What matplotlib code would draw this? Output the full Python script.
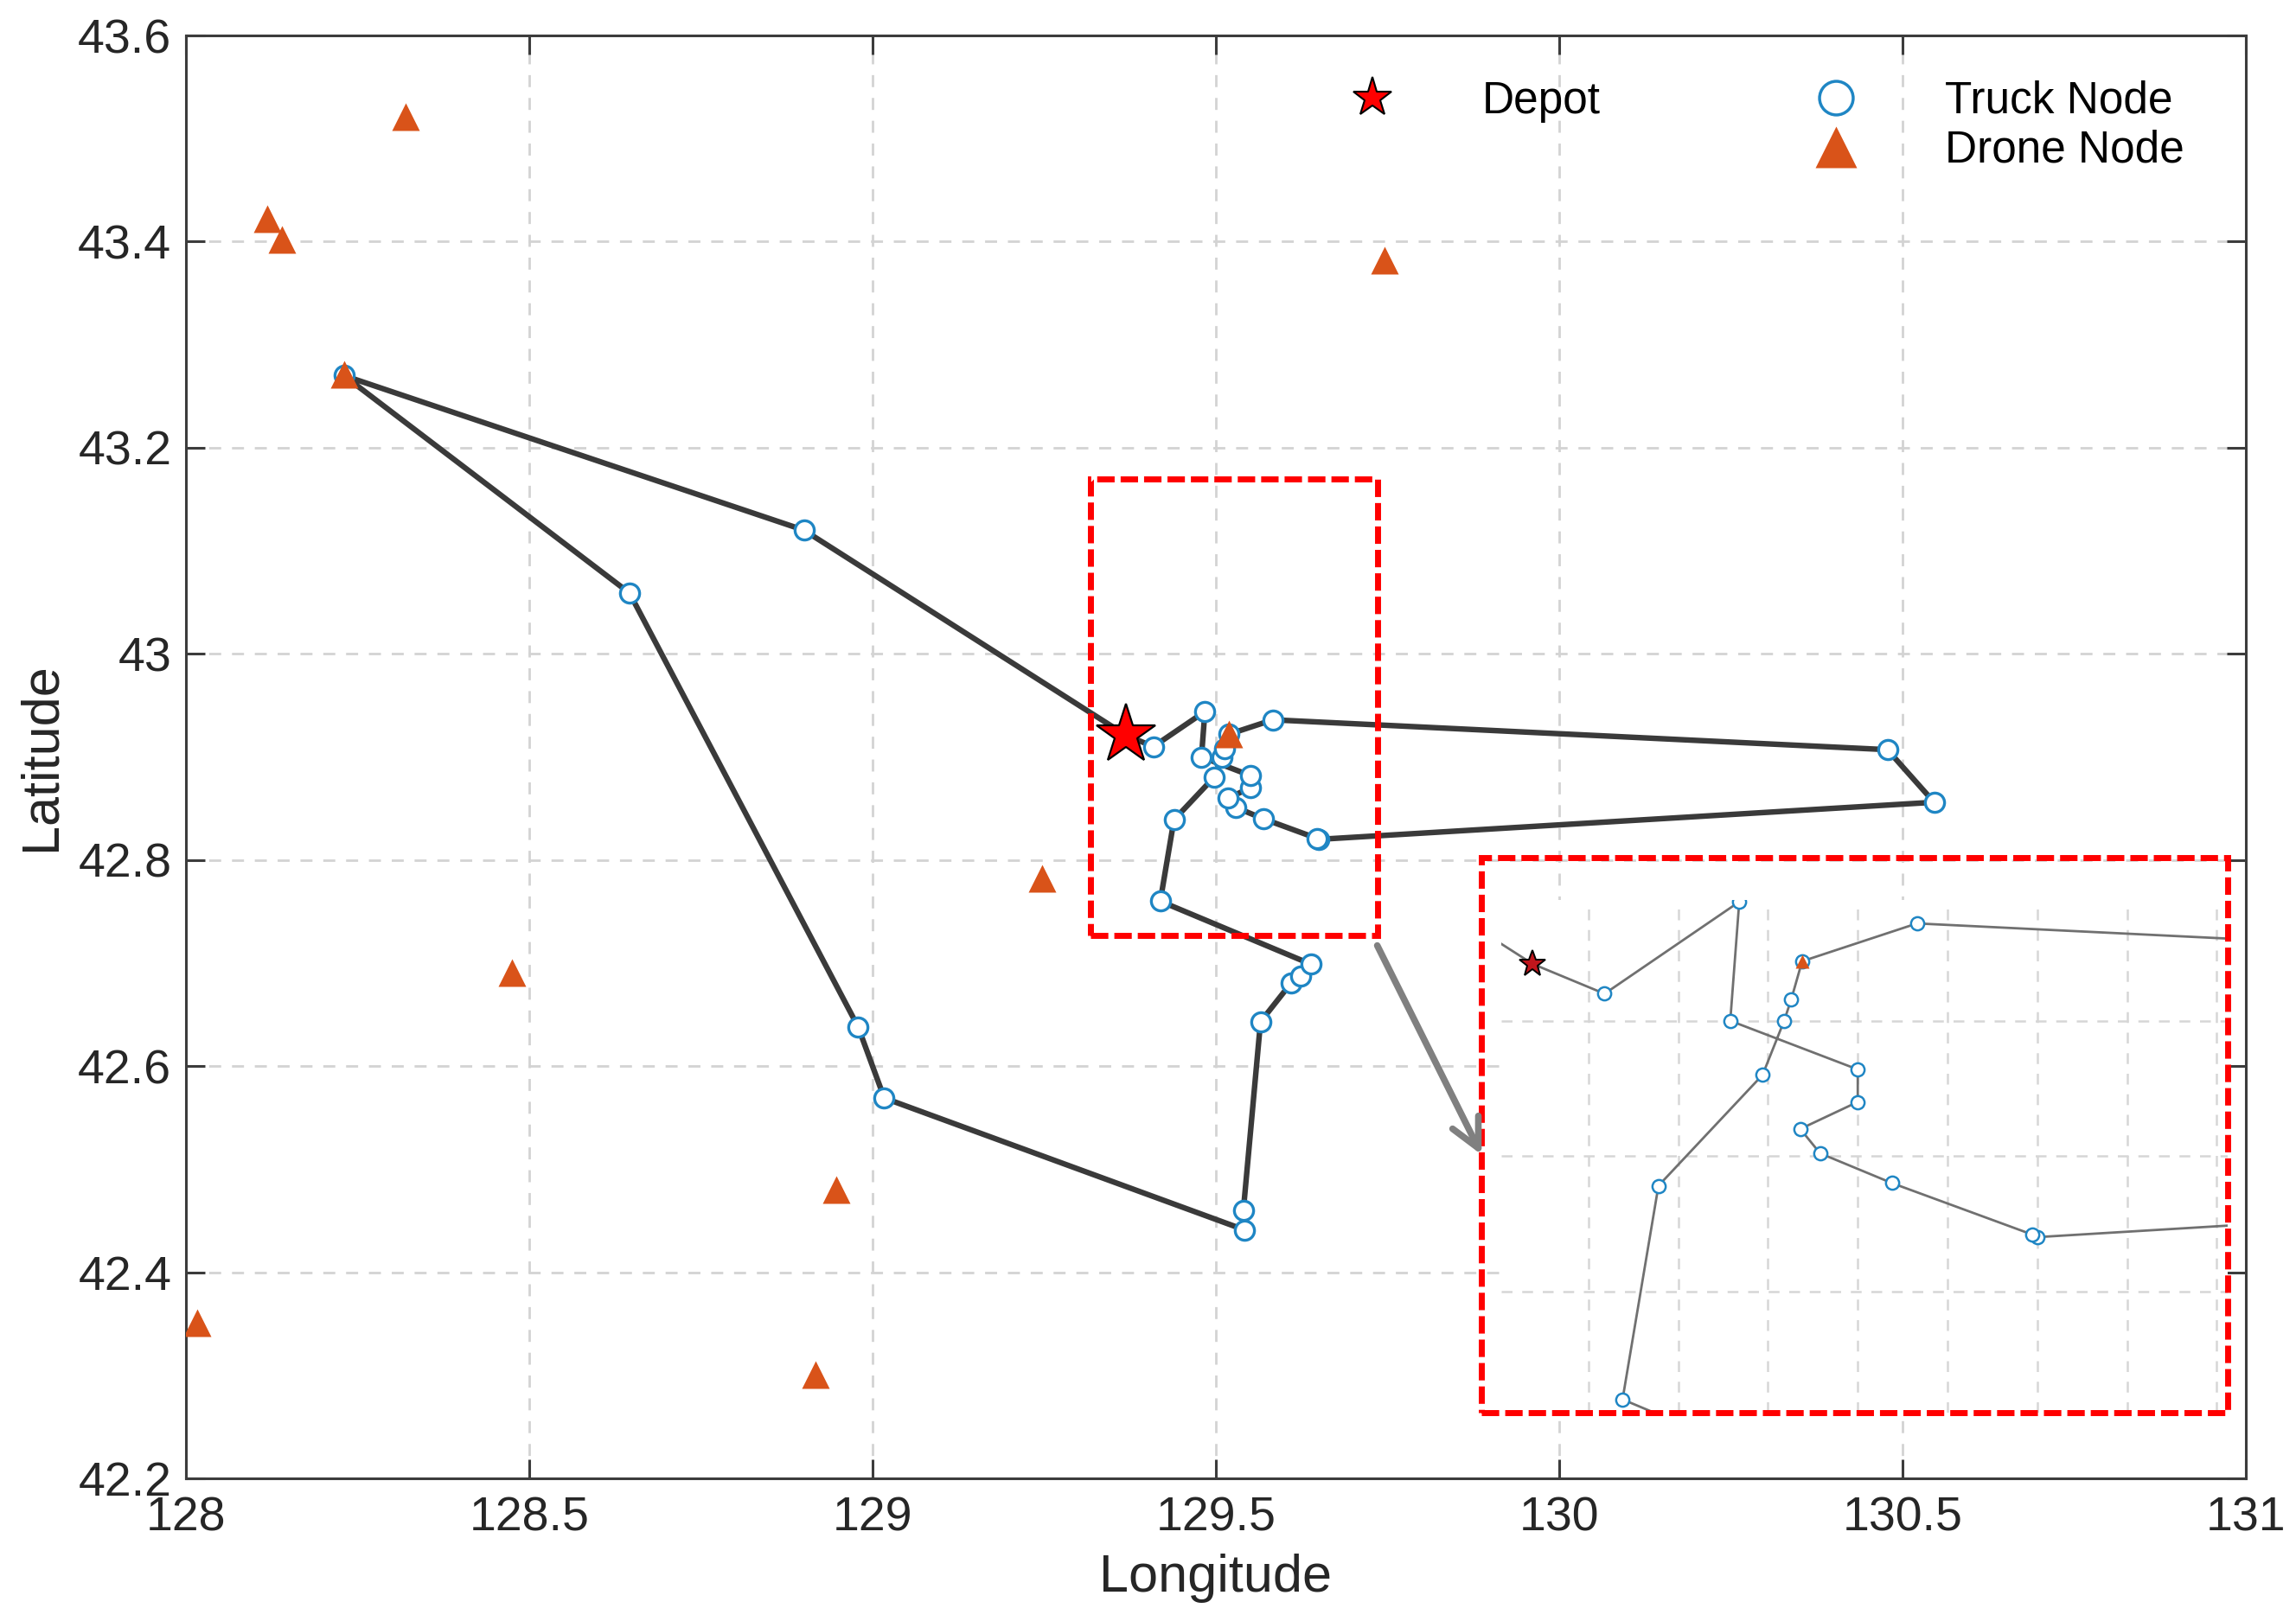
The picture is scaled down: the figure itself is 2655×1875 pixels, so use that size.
import matplotlib
matplotlib.use("Agg")
from matplotlib import pyplot as plt
from matplotlib.lines import Line2D
from matplotlib.patches import Rectangle

plt.rcParams["font.family"] = ["Liberation Sans", "DejaVu Sans"]

# depot
depot_lon = [129.369]
depot_lat = [42.921]

# truck tour, starting and ending at the depot
route_lon = [129.369, 128.900, 128.230, 128.646, 128.979, 129.017, 129.542, 129.540,
             129.565, 129.610, 129.624, 129.638, 129.419, 129.439, 129.497, 129.509,
             129.513, 129.519, 129.583, 130.478, 130.546, 129.650, 129.647, 129.569,
             129.529, 129.518, 129.550, 129.550, 129.479, 129.484, 129.409, 129.369]
route_lat = [42.921, 43.120, 43.270, 43.059, 42.638, 42.569, 42.441, 42.460,
             42.643, 42.681, 42.687, 42.699, 42.760, 42.839, 42.880, 42.900,
             42.908, 42.922, 42.936, 42.907, 42.856, 42.820, 42.821, 42.840,
             42.851, 42.860, 42.870, 42.882, 42.900, 42.944, 42.910, 42.921]

# drone customers
drone_lon = [128.320, 128.119, 128.140, 128.230, 129.746, 129.247, 128.475,
             128.947, 128.017, 128.917, 129.519]
drone_lat = [43.521, 43.422, 43.402, 43.271, 43.382, 42.782, 42.691,
             42.480, 42.351, 42.301, 42.922]

x_ticks = [128, 128.5, 129, 129.5, 130, 130.5, 131]
x_tick_labels = ["128", "128.5", "129", "129.5", "130", "130.5", "131"]
y_ticks = [42.2, 42.4, 42.6, 42.8, 43.0, 43.2, 43.4, 43.6]
y_tick_labels = ["42.2", "42.4", "42.6", "42.8", "43", "43.2", "43.4", "43.6"]

# zoomed region on the map and where the zoomed copy is shown
zoom_box = (129.317, 42.727, 0.419, 0.443)
inset_frame = (129.887, 42.264, 1.087, 0.538)
inset_bounds = [129.916, 42.264, 1.058, 0.497]
inset_xlim = (129.3516, 129.7562)
inset_ylim = (42.7552, 42.9446)
inset_xgrid = [129.40, 129.45, 129.50, 129.55, 129.60, 129.65, 129.70, 129.75]
inset_ygrid = [42.80, 42.85, 42.90]

TRUCK_BLUE = "#1f86c4"
DRONE_ORANGE = "#d95319"
ROUTE_GRAY = "#3a3a3a"
TEXT = "#262626"

fig = plt.figure(figsize=(26.55, 18.75), dpi=100)
ax = fig.add_axes([215 / 2655, 1 - 1710 / 1875, 2382 / 2655, 1669 / 1875])

ax.plot(route_lon, route_lat, color=ROUTE_GRAY, lw=4.6, zorder=2)
ax.plot(route_lon[1:-1], route_lat[1:-1], ls="none", marker="o", ms=16,
        mfc="white", mec=TRUCK_BLUE, mew=2.4, zorder=3)
ax.plot(drone_lon, drone_lat, ls="none", marker="^", ms=23,
        mfc=DRONE_ORANGE, mec="none", zorder=4)
ax.plot(depot_lon, depot_lat, ls="none", marker="*", ms=52,
        mfc="red", mec="black", mew=1.6, zorder=4)

ax.set_xlim(128, 131)
ax.set_ylim(42.2, 43.6)
ax.set_xticks(x_ticks, x_tick_labels)
ax.set_yticks(y_ticks, y_tick_labels)
ax.tick_params(axis="both", direction="in", length=16, width=2.2, color="#3c3c3c",
               labelsize=40, labelcolor=TEXT, top=True, right=True)
ax.tick_params(axis="x", pad=15)
ax.tick_params(axis="y", pad=12)
for sp in ax.spines.values():
    sp.set_linewidth(2.2)
    sp.set_color("#3c3c3c")
ax.set_axisbelow(True)
ax.grid(True, color="#d3d3d3", lw=2, linestyle=(0, (5, 4.5)))
ax.set_xlabel("Longitude", fontsize=44, color=TEXT, labelpad=10)
ax.set_ylabel("Latitude", fontsize=44, color=TEXT, labelpad=10)

# red dashed box around the zoomed region
ax.add_patch(Rectangle(zoom_box[:2], zoom_box[2], zoom_box[3], fill=False,
                       edgecolor="red", lw=5, linestyle=(0, (2.9, 1.0)), zorder=4))

# zoomed copy
ins = ax.inset_axes(inset_bounds, transform=ax.transData)
ins.set_facecolor("white")
ins.plot(route_lon, route_lat, color="#707070", lw=2)
ins.plot(route_lon[1:-1], route_lat[1:-1], ls="none", marker="o", ms=11,
         mfc="white", mec=TRUCK_BLUE, mew=1.8)
ins.plot(drone_lon, drone_lat, ls="none", marker="^", ms=12,
         mfc=DRONE_ORANGE, mec="none")
ins.plot(depot_lon, depot_lat, ls="none", marker="*", ms=23,
         mfc="#c0161c", mec="black", mew=1.4)
ins.set_xlim(*inset_xlim)
ins.set_ylim(*inset_ylim)
ins.set_xticks(inset_xgrid)
ins.set_yticks(inset_ygrid)
ins.tick_params(length=0, labelbottom=False, labelleft=False)
ins.grid(True, color="#d6d6d6", lw=1.8, linestyle=(0, (5, 4.5)))
ins.set_axisbelow(True)
for sp in ins.spines.values():
    sp.set_visible(False)

ax.add_patch(Rectangle(inset_frame[:2], inset_frame[2], inset_frame[3], fill=False,
                       edgecolor="red", lw=5, linestyle=(0, (2.9, 1.0)), zorder=6))

ax.annotate("", xy=(129.887, 42.514), xytext=(129.735, 42.717),
            arrowprops=dict(arrowstyle="->,head_length=0.6,head_width=0.3",
                            color="#808080", lw=5.5, mutation_scale=40,
                            shrinkA=0, shrinkB=0), zorder=7)

handles = [
    Line2D([], [], ls="none", marker="*", ms=34, mfc="red", mec="black", mew=1.5),
    Line2D([], [], ls="none"),
    Line2D([], [], ls="none", marker="o", ms=28, mfc="white", mec=TRUCK_BLUE, mew=2.5),
    Line2D([], [], ls="none", marker="^", ms=34, mfc=DRONE_ORANGE, mec="none"),
]
ax.legend(handles, ["Depot", "", "Truck Node", "Drone Node"], ncol=2,
          loc="upper left", bbox_to_anchor=(0.5546, 0.969), frameon=False,
          fontsize=37, handlelength=2.0, handletextpad=1.45, columnspacing=4.3,
          labelspacing=0.16, borderpad=0, borderaxespad=0,
          labelcolor="black")

fig.savefig("out.png", dpi=100, facecolor="white")
